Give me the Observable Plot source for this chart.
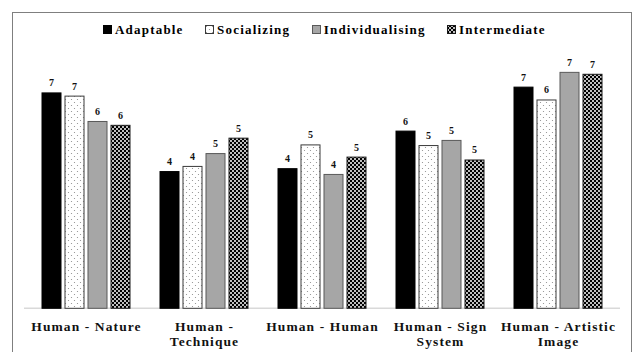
<!DOCTYPE html>
<html>
<head>
<meta charset="utf-8">
<script src="https://cdn.jsdelivr.net/npm/d3@7"></script>
<script src="https://cdn.jsdelivr.net/npm/@observablehq/plot@0.6"></script>
<style>
  html, body { margin: 0; padding: 0; background: #fff; width: 633px; height: 352px; overflow: hidden; position: relative; }
  #frame { position: absolute; left: 12px; top: 12px; width: 620px; height: 400px; border: 1px solid #7f7f7f; box-sizing: border-box; }
  #legend { position: absolute; left: 103px; top: 21px; height: 17px; display: flex; align-items: center;
            font-family: "Liberation Serif", "Times New Roman", serif; font-weight: bold; font-size: 13px; letter-spacing: 1.2px; line-height: 17px; }
  .item { display: flex; align-items: center; margin-right: 21.5px; }
  .item svg { margin-right: 3px; display: block; }
  #chart { position: absolute; left: 0; top: 44px; }
</style>
</head>
<body>
<svg width="0" height="0" style="position:absolute">
  <defs>
    <pattern id="pat-soc" width="6" height="6" patternUnits="userSpaceOnUse">
      <rect width="6" height="6" fill="#ffffff"></rect>
      <circle cx="1.5" cy="1.5" r="0.6" fill="#8a8a8a"></circle>
      <circle cx="4.5" cy="4.5" r="0.6" fill="#8a8a8a"></circle>
    </pattern>
    <pattern id="pat-int" width="4" height="4" patternUnits="userSpaceOnUse">
      <rect width="4" height="4" fill="#000000"></rect>
      <circle cx="1" cy="1" r="1" fill="#ffffff"></circle>
      <circle cx="3" cy="3" r="1" fill="#ffffff"></circle>
    </pattern>
  </defs>
</svg>
<div id="frame"></div>
<div id="legend"></div>
<div id="chart"></div>
<script>
// ---- data ----
const groups = ["Human - Nature", "Human - Technique", "Human - Human", "Human - Sign System", "Human - Artistic Image"];
const tickLabels = ["Human - Nature", "Human -\nTechnique", "Human - Human", "Human - Sign\nSystem", "Human - Artistic\nImage"];
const series = ["Adaptable", "Socializing", "Individualising", "Intermediate"];
const adaptable       = [6.71, 4.26, 4.35, 5.52, 6.89];
const socializing     = [6.61, 4.42, 5.09, 5.07, 6.49];
const individualising = [5.82, 4.82, 4.17, 5.23, 7.35];
const intermediate    = [5.70, 5.30, 4.71, 4.62, 7.29];

const valuesBySeries = [adaptable, socializing, individualising, intermediate];
const styles = {
  "Adaptable":       {fill: "#000000", stroke: "#000000"},
  "Socializing":     {fill: "url(#pat-soc)", stroke: "#3a3a3a"},
  "Individualising": {fill: "#a6a6a6", stroke: "#595959"},
  "Intermediate":    {fill: "url(#pat-int)", stroke: "#1a1a1a"}
};

const data = groups.flatMap((g, i) => series.map((s, j) => ({group: g, series: s, value: valuesBySeries[j][i]})));

// ---- legend ----
const legend = d3.select("#legend");
series.forEach(s => {
  const it = legend.append("div").attr("class", "item");
  const sw = it.append("svg").attr("width", 9).attr("height", 9);
  sw.append("rect").attr("x", 0.5).attr("y", 0.5).attr("width", 8).attr("height", 8)
    .attr("fill", styles[s].fill).attr("stroke", styles[s].stroke).attr("stroke-width", 1);
  it.append("span").text(s);
});

// ---- chart ----
const chart = Plot.plot({
  width: 633,
  height: 308,
  marginLeft: 25,
  marginRight: 13,
  marginTop: 7.5,
  marginBottom: 43.7,
  style: {fontFamily: "'Liberation Serif', 'Times New Roman', serif", fontWeight: "bold", fontSize: "13.5px", letterSpacing: "1.1px", color: "#111"},
  fx: {domain: groups, paddingInner: 0.235, paddingOuter: 0.118, label: null},
  x: {domain: series, paddingInner: 0.19, paddingOuter: 0.03, axis: null},
  y: {domain: [0, 8], axis: null},
  marks: [
    ...series.map(s => Plot.barY(data.filter(d => d.series === s), {
      fx: "group", x: "series", y: "value",
      fill: styles[s].fill, stroke: styles[s].stroke, strokeWidth: 1
    })),
    Plot.text(data, {
      fx: "group", x: "series", y: "value",
      text: d => d3.format(".0f")(d.value),
      lineAnchor: "bottom", dy: -7, fontSize: 10, fill: "#111"
    }),
    Plot.axisFx({
      anchor: "bottom", tickSize: 0, tickPadding: 11, label: null,
      tickFormat: d => tickLabels[groups.indexOf(d)],
      lineHeight: 1.15, fontSize: 13.5, fontWeight: "bold"
    })
  ]
});

// baseline spanning all groups, positioned from the scales
const ys = chart.scale("y");
const fxs = chart.scale("fx");
const yBase = ys.range[0];
d3.select(chart).insert("line", "g")
  .attr("x1", fxs.range[0] - 1).attr("x2", fxs.range[1])
  .attr("y1", yBase).attr("y2", yBase)
  .attr("stroke", "#d9d9d9").attr("stroke-width", 1.5);

document.getElementById("chart").appendChild(chart);
</script>
</body>
</html>
